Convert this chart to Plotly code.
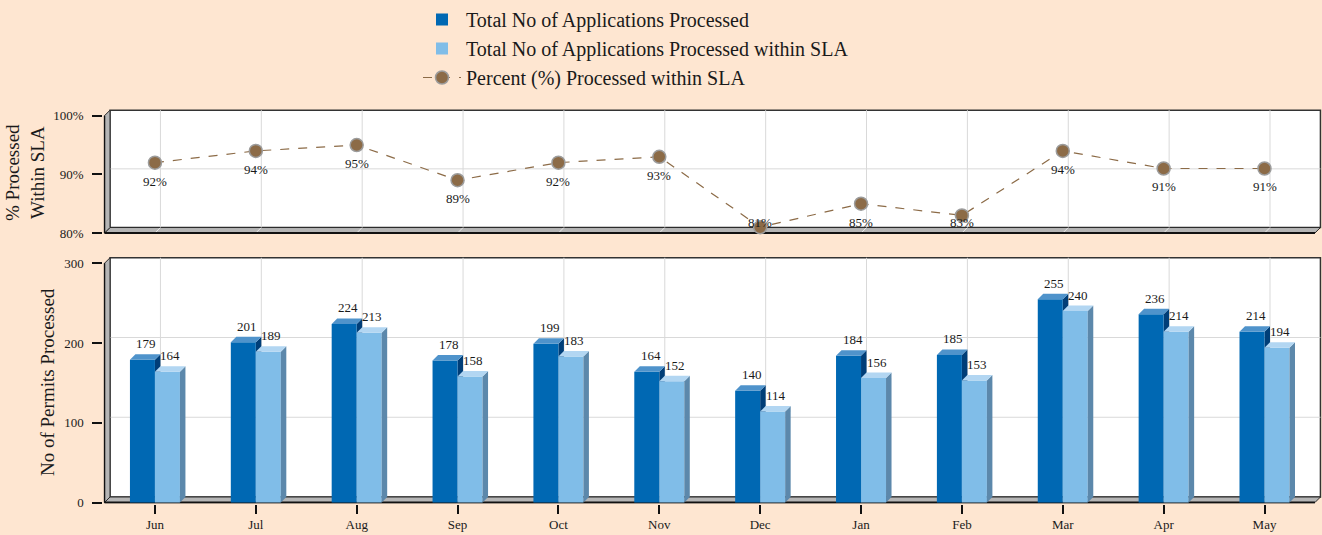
import plotly.graph_objects as go

months = ["Jun", "Jul", "Aug", "Sep", "Oct", "Nov", "Dec", "Jan", "Feb", "Mar", "Apr", "May"]
total_processed = [179, 201, 224, 178, 199, 164, 140, 184, 185, 255, 236, 214]
within_sla = [164, 189, 213, 158, 183, 152, 114, 156, 153, 240, 214, 194]
pct_within_sla = [92, 94, 95, 89, 92, 93, 81, 85, 83, 94, 91, 91]

pct_ticks = [80, 90, 100]
pct_ticktext = ["80%", "90%", "100%"]
count_ticks = [0, 100, 200, 300]

names = ["Total No of Applications Processed",
         "Total No of Applications Processed within SLA",
         "Percent (%) Processed within SLA"]

BG = "#FEE6D1"
DARK = "#0068B3"
DARK_TOP = "#4F93CB"
DARK_SIDE = "#003E78"
LIGHT = "#80BDE8"
LIGHT_TOP = "#B2D6F2"
LIGHT_SIDE = "#5C88AB"
BROWN = "#8C6B47"
FONT = "Liberation Serif"
TXT = "#1a1a1a"

idx = list(range(len(months)))
W, H = 1322, 535

# geometry helpers (pixel based)
px_x = 100.87
dx = 5.5 / px_x
bw = 25 / px_x
bot_scale = 0.7974
top_scale = 5.866
dy_bot = 5.5 / bot_scale
dy_top = 5.5 / top_scale

X0, X1 = -0.5, len(months) - 0.5

shapes = []


def panel(xr, yr, y0, y1, dy, grid_inner):
    s = []
    # back wall
    s.append(dict(type="rect", xref=xr, yref=yr, x0=X0 + dx, x1=X1 + dx, y0=y0 + dy, y1=y1 + dy,
                  fillcolor="white", line=dict(color="#333333", width=1.5), layer="below"))
    for g in grid_inner:
        s.append(dict(type="line", xref=xr, yref=yr, x0=X0 + dx, x1=X1 + dx, y0=g + dy, y1=g + dy,
                      line=dict(color="#D9D9D9", width=1), layer="below"))
    for i in idx:
        s.append(dict(type="line", xref=xr, yref=yr, x0=i + dx, x1=i + dx, y0=y0 + dy, y1=y1 + dy,
                      line=dict(color="#D9D9D9", width=1), layer="below"))
    # floor
    s.append(dict(type="path", xref=xr, yref=yr,
                  path=f"M{X0},{y0} L{X1},{y0} L{X1+dx},{y0+dy} L{X0+dx},{y0+dy} Z",
                  fillcolor="#B5B5B5", line=dict(color="#2a2a2a", width=1), layer="below"))
    for i in idx:
        s.append(dict(type="line", xref=xr, yref=yr, x0=i, x1=i + dx, y0=y0, y1=y0 + dy,
                      line=dict(color="#E8E8E8", width=1), layer="below"))
    # left wall
    s.append(dict(type="path", xref=xr, yref=yr,
                  path=f"M{X0},{y0} L{X0},{y1} L{X0+dx},{y1+dy} L{X0+dx},{y0+dy} Z",
                  fillcolor="#B5B5B5", line=dict(color="#2a2a2a", width=1), layer="below"))
    # front axis lines
    s.append(dict(type="line", xref=xr, yref=yr, x0=X0, x1=X1, y0=y0, y1=y0,
                  line=dict(color="#111111", width=2), layer="below"))
    s.append(dict(type="line", xref=xr, yref=yr, x0=X0, x1=X0, y0=y0, y1=y1,
                  line=dict(color="#111111", width=1.5), layer="below"))
    return s


shapes += panel("x", "y", 0, 300, dy_bot, [100, 200])
shapes += panel("x2", "y2", 80, 100, dy_top, [90])

# 3D faces for bars
for i, v in zip(idx, total_processed):
    xl, xr_ = i - bw, i
    shapes.append(dict(type="path", xref="x", yref="y",
                       path=f"M{xr_},{0} L{xr_},{v} L{xr_+dx},{v+dy_bot} L{xr_+dx},{dy_bot} Z",
                       fillcolor=DARK_SIDE, line=dict(width=0), layer="below"))
    shapes.append(dict(type="path", xref="x", yref="y",
                       path=f"M{xl},{v} L{xr_},{v} L{xr_+dx},{v+dy_bot} L{xl+dx},{v+dy_bot} Z",
                       fillcolor=DARK_TOP, line=dict(width=0), layer="above"))
for i, v in zip(idx, within_sla):
    xl, xr_ = i, i + bw
    shapes.append(dict(type="path", xref="x", yref="y",
                       path=f"M{xr_},{0} L{xr_},{v} L{xr_+dx},{v+dy_bot} L{xr_+dx},{dy_bot} Z",
                       fillcolor=LIGHT_SIDE, line=dict(width=0), layer="above"))
    shapes.append(dict(type="path", xref="x", yref="y",
                       path=f"M{xl},{v} L{xr_},{v} L{xr_+dx},{v+dy_bot} L{xl+dx},{v+dy_bot} Z",
                       fillcolor=LIGHT_TOP, line=dict(width=0), layer="above"))

fig = go.Figure()
fig.add_trace(go.Bar(x=idx, y=total_processed, width=bw, offset=-bw, name=names[0],
                     marker=dict(color=DARK, line=dict(width=0)),
                     xaxis="x", yaxis="y", hoverinfo="y"))
fig.add_trace(go.Bar(x=idx, y=within_sla, width=bw, offset=0, name=names[1],
                     marker=dict(color=LIGHT, line=dict(width=0)),
                     xaxis="x", yaxis="y", hoverinfo="y"))
fig.add_trace(go.Scatter(x=idx, y=pct_within_sla, mode="lines+markers", name=names[2],
                         line=dict(color=BROWN, width=1.2, dash="dash"),
                         marker=dict(size=13, color=BROWN, line=dict(color="#9C9C9C", width=1.5)),
                         xaxis="x2", yaxis="y2", cliponaxis=False))

annotations = []
for i, v in zip(idx, total_processed):
    annotations.append(dict(x=i, y=v, xref="x", yref="y", text=str(v), showarrow=False,
                            xshift=-8.5, yshift=16, font=dict(family=FONT, size=13, color=TXT)))
for i, v in zip(idx, within_sla):
    annotations.append(dict(x=i, y=v, xref="x", yref="y", text=str(v), showarrow=False,
                            xshift=15.5, yshift=16, font=dict(family=FONT, size=13, color=TXT)))
for i, v in zip(idx, pct_within_sla):
    annotations.append(dict(x=i, y=max(v - 3.15, 81.85), xref="x2", yref="y2", text=f"{v}%",
                            showarrow=False, font=dict(family=FONT, size=13, color=TXT)))

annotations.append(dict(x=25 / W, y=1 - 173 / H, xref="paper", yref="paper",
                        xanchor="center", yanchor="middle",
                        text="% Processed<br>Within SLA", textangle=-90, showarrow=False,
                        font=dict(family=FONT, size=19, color=TXT)))
annotations.append(dict(x=47 / W, y=1 - 382 / H, xref="paper", yref="paper",
                        xanchor="center", yanchor="middle",
                        text="No of Permits Processed", textangle=-90, showarrow=False,
                        font=dict(family=FONT, size=19, color=TXT)))

xdom = [103.3 / W, 1.0]
xrange_ = [-0.512, 11.57]
tickfont = dict(family=FONT, size=13, color=TXT)

fig.update_layout(
    width=W, height=H, autosize=False,
    paper_bgcolor=BG, plot_bgcolor="rgba(0,0,0,0)",
    margin=dict(l=0, r=0, t=0, b=0, pad=0),
    barmode="overlay",
    showlegend=True,
    legend=dict(x=418 / W, y=1.0, xanchor="left", yanchor="top",
                font=dict(family=FONT, size=20, color=TXT),
                bgcolor="rgba(0,0,0,0)", tracegroupgap=0, itemwidth=38),
    xaxis=dict(domain=xdom, range=xrange_, anchor="y", tickvals=idx, ticktext=months,
               automargin=False,
               showgrid=False, zeroline=False, showline=False, ticks="outside", ticklen=9,
               tickcolor="#111", tickwidth=1.5, tickfont=dict(family=FONT, size=13, color=TXT)),
    yaxis=dict(domain=[0.0585, 0.52056], range=[-1.5, 308.5], anchor="x", tickvals=count_ticks,
               automargin=False,
               showgrid=False, zeroline=False, showline=False, ticks="outside", ticklen=10,
               tickcolor="#111", tickwidth=1.5, tickfont=tickfont, ticklabelstandoff=6),
    xaxis2=dict(domain=xdom, range=xrange_, anchor="y2", matches="x", showticklabels=False,
                automargin=False,
                showgrid=False, zeroline=False, showline=False, ticks=""),
    yaxis2=dict(domain=[0.56224, 0.7969], range=[79.8, 101.2], anchor="x2", tickvals=pct_ticks,
                automargin=False,
                ticktext=pct_ticktext, showgrid=False, zeroline=False, showline=False,
                ticks="outside", ticklen=10, tickcolor="#111", tickwidth=1.5, tickfont=tickfont,
                ticklabelstandoff=6),
    shapes=shapes,
    annotations=annotations,
)

fig.write_html("out.html", config={"displayModeBar": False},
               post_script="document.body.style.margin='0px';"
                           "document.body.style.background='#FEE6D1';")
